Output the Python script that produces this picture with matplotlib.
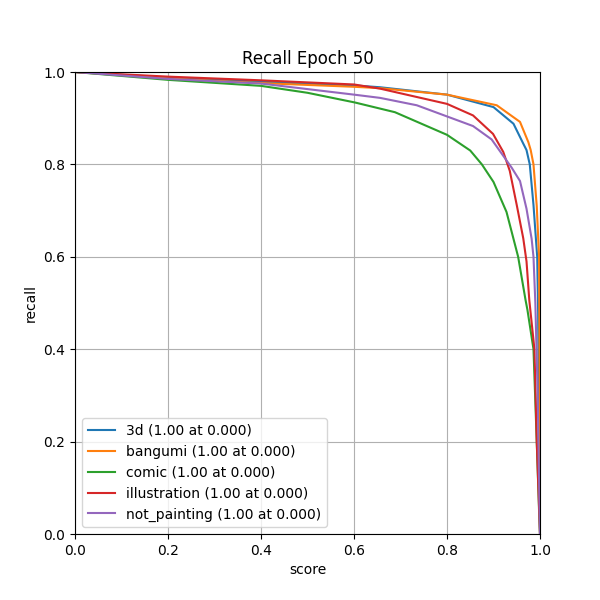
import matplotlib
matplotlib.use('Agg')
import matplotlib.pyplot as plt

names = ['3d', 'bangumi', 'comic', 'illustration', 'not_painting']
colors = ['tab:blue', 'tab:orange', 'tab:green', 'tab:red', 'tab:purple']

# score / recall points
x_3d = [0.0, 0.2, 0.4, 0.6, 0.656, 0.8, 0.9, 0.943, 0.964, 0.971, 0.978, 0.986, 0.994, 0.996, 0.998, 1.0]
y_3d = [1.0, 0.988, 0.979, 0.971, 0.967, 0.951, 0.924, 0.888, 0.845, 0.831, 0.80, 0.712, 0.60, 0.48, 0.2, 0.0]

x_bangumi = [0.0, 0.2, 0.4, 0.6, 0.656, 0.8, 0.907, 0.957, 0.975, 0.980, 0.986, 0.993, 0.998, 0.999, 1.0]
y_bangumi = [1.0, 0.986, 0.976, 0.968, 0.965, 0.951, 0.928, 0.892, 0.848, 0.831, 0.80, 0.71, 0.60, 0.40, 0.0]

x_comic = [0.0, 0.2, 0.4, 0.5, 0.602, 0.688, 0.8, 0.85, 0.875, 0.9, 0.928, 0.953, 0.969, 0.973, 0.986, 0.993, 0.998, 1.0]
y_comic = [1.0, 0.983, 0.970, 0.955, 0.934, 0.913, 0.864, 0.83, 0.80, 0.762, 0.697, 0.60, 0.506, 0.485, 0.40, 0.20, 0.05, 0.0]

x_illu = [0.0, 0.2, 0.4, 0.6, 0.656, 0.8, 0.856, 0.899, 0.921, 0.935, 0.95, 0.964, 0.971, 0.977, 0.988, 0.993, 1.0]
y_illu = [1.0, 0.990, 0.982, 0.973, 0.964, 0.931, 0.906, 0.866, 0.827, 0.786, 0.712, 0.64, 0.59, 0.506, 0.40, 0.20, 0.0]

x_notp = [0.0, 0.2, 0.4, 0.6, 0.656, 0.735, 0.856, 0.896, 0.939, 0.957, 0.971, 0.982, 0.986, 0.990, 0.995, 1.0]
y_notp = [1.0, 0.985, 0.975, 0.951, 0.944, 0.928, 0.883, 0.854, 0.793, 0.764, 0.704, 0.639, 0.60, 0.50, 0.30, 0.0]

xs = [x_3d, x_bangumi, x_comic, x_illu, x_notp]
ys = [y_3d, y_bangumi, y_comic, y_illu, y_notp]

fig, ax = plt.subplots(figsize=(6, 6), dpi=100)
for name, c, x, y in zip(names, colors, xs, ys):
    ax.plot(x, y, color=c, label=f'{name} (1.00 at 0.000)')

ax.set_xlim(0, 1)
ax.set_ylim(0, 1)
ax.set_xlabel('score')
ax.set_ylabel('recall')
ax.set_title('Recall Epoch 50')
ax.grid(True)
ax.legend(loc='lower left')

fig.savefig('out.png')
